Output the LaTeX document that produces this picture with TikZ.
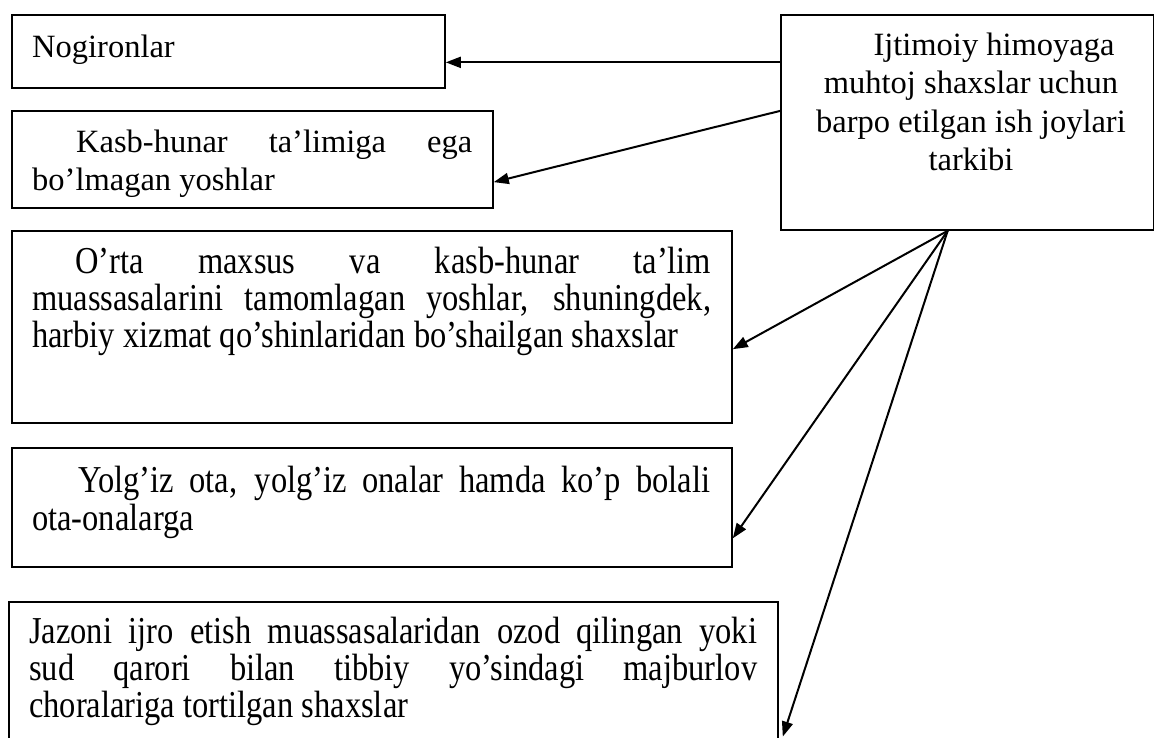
\documentclass[tikz,border=0pt]{standalone}
\usepackage{fontspec}
\setmainfont{Liberation Serif}
\usetikzlibrary{arrows.meta,calc}
\begin{document}
\begin{tikzpicture}[x=1pt,y=-1pt,
  box/.style={draw=black, line width=1.8pt, inner sep=0pt, anchor=north west},
  arr/.style={line width=2pt, -{Triangle[length=15pt,width=11pt]}},
  txt/.style={anchor=base west, inner sep=0pt, font=\fontsize{32.5pt}{37.5pt}\selectfont}]
\useasboundingbox (0,0) rectangle (1154,737);
\clip (0,0) rectangle (1154,737);
% boxes
\node[box, minimum width=433pt, minimum height=73pt] (b1) at (11,14) {};
\node[box, minimum width=481pt, minimum height=97pt] (b2) at (11,110) {};
\node[box, minimum width=720pt, minimum height=192pt] (b3) at (11,230) {};
\node[box, minimum width=720pt, minimum height=119pt] (b4) at (11,447) {};
\node[box, minimum width=769pt, minimum height=150pt] (b5) at (8,601) {};
\node[box, minimum width=372.5pt, minimum height=215pt] (hub) at (780,14) {};
% texts
\node[txt] (t1) at (32,57) {Nogironlar};
\node[txt] (t2) at (32,152) {\parbox[t]{440pt}{\fontsize{32.5pt}{38pt}\selectfont
  \makebox[\linewidth][s]{\hspace*{44pt}Kasb-hunar ta’limiga ega}\\
  bo’lmagan yoshlar}};
\node[txt] (t3) at (32,273) {\scalebox{1}[1.17]{\parbox[t]{679pt}{\fontsize{32.5pt}{32pt}\selectfont
  \makebox[\linewidth][s]{\hspace*{43pt}O’rta maxsus va kasb-hunar ta’lim}\\
  \makebox[\linewidth][s]{muassasalarini tamomlagan yoshlar, shuningdek,}\\
  harbiy xizmat qo’shinlaridan bo’shailgan shaxslar}}};
\node[txt] (t4) at (32,492) {\scalebox{1}[1.17]{\parbox[t]{678pt}{\fontsize{32.5pt}{32.5pt}\selectfont
  \makebox[\linewidth][s]{\hspace*{46pt}Yolg’iz ota, yolg’iz onalar hamda ko’p bolali}\\
  ota-onalarga}}};
\node[txt] (t5) at (29,643) {\scalebox{1}[1.17]{\parbox[t]{728pt}{\fontsize{32.5pt}{32pt}\selectfont
  \makebox[\linewidth][s]{Jazoni ijro etish muassasalaridan ozod qilingan yoki}\\
  \makebox[\linewidth][s]{sud qarori bilan tibbiy yo’sindagi majburlov}\\
  choralariga tortilgan shaxslar}}};
\node[anchor=base, inner sep=0pt, font=\fontsize{32.5pt}{38.5pt}\selectfont] (th) at (971,55)
  {\parbox[t]{360pt}{\centering\fontsize{32.5pt}{38.5pt}\selectfont
  \hspace*{46pt}Ijtimoiy himoyaga\\
  muhtoj shaxslar uchun\\
  barpo etilgan ish joylari\\
  tarkibi}};
% connectors
\coordinate (s1) at ($(hub.north west)!0.223!(hub.south west)$);
\coordinate (s2) at ($(hub.north west)!0.447!(hub.south west)$);
\coordinate (fan) at ($(hub.south west)!0.448!(hub.south east)$);
\draw[arr] (s1) -- (s1 -| b1.east);
\draw[arr] (s2) -- ($(b2.north east)!0.73!(b2.south east)$);
\draw[arr] (fan) -- ($(b3.north east)!0.615!(b3.south east)$);
\draw[arr] (fan) -- ($(b4.north east)!0.756!(b4.south east)$);
\draw[arr] (fan) -- ($(b5.north east)!0.893!(b5.south east)+(4,0)$);
\end{tikzpicture}
\end{document}
